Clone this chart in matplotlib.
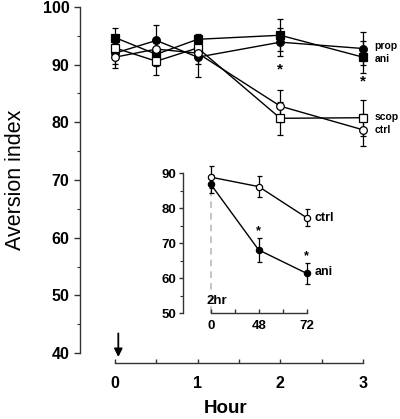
import matplotlib
matplotlib.use("Agg")
import matplotlib.pyplot as plt
import numpy as np

plt.rcParams['font.family'] = ['Liberation Sans', 'DejaVu Sans']

# ---- main panel data ----
hours = [0, 0.5, 1, 2, 3]
prop = [92.0, 94.2, 91.3, 93.9, 92.8]
prop_err = [1.8, 2.7, 3.5, 2.4, 2.9]
ani = [94.7, 91.8, 94.4, 95.1, 91.3]
ani_err = [1.7, 2.0, 1.0, 2.8, 2.8]
scop = [92.9, 90.6, 92.9, 80.7, 80.8]
scop_err = [1.8, 2.4, 1.8, 2.9, 3.1]
ctrl = [91.3, 92.7, 92.0, 82.8, 78.7]
ctrl_err = [1.8, 2.0, 1.8, 2.8, 2.8]
star_x = [2, 3]
star_y = [89.1, 87.0]
main_xticks = [0, 1, 2, 3]
main_yticks = [40, 50, 60, 70, 80, 90, 100]
series_labels = ['prop', 'ani', 'scop', 'ctrl']
series_label_y = [93.2, 91.0, 80.9, 78.6]

# ---- inset data ----
inset_labels = ['0', '48', '72']
inset_ctrl = [88.9, 86.2, 77.3]
inset_ctrl_err = [3.2, 3.1, 2.4]
inset_ani = [86.9, 68.1, 61.4]
inset_ani_err = [2.6, 3.4, 2.9]
inset_star_y = [73.6, 66.2]
inset_yticks = [50, 60, 70, 80, 90]

W, H = 400, 419
fig = plt.figure(figsize=(4.0, 4.19), dpi=100)

def frac(x0, y0, x1, y1):
    return [x0 / W, 1 - y1 / H, (x1 - x0) / W, (y1 - y0) / H]

px_per_hr = (363 - 115) / 3.0
xl = (80 - 115) / px_per_hr
xr = 3 + (372 - 363) / px_per_hr
ax = fig.add_axes(frac(80, 7, 372, 353))
ax.set_xlim(xl, xr)
ax.set_ylim(40, 100)
for s in ['top', 'right']:
    ax.spines[s].set_visible(False)
ax.spines['bottom'].set_bounds(0, 3)
ax.spines['bottom'].set_position(('outward', 7.2))
for s in ['left', 'bottom']:
    ax.spines[s].set_linewidth(1.0)
    ax.spines[s].set_color('#333333')

ax.set_xticks(main_xticks)
ax.set_xticks([0.5, 1.5, 2.5], minor=True)
ax.set_yticks(main_yticks)
ax.set_yticks(np.arange(45, 100, 10), minor=True)
ax.tick_params(axis='x', which='both', direction='in', length=3, width=1, color='#333333', pad=9)
ax.tick_params(axis='y', which='major', direction='out', length=4, width=1, color='#333333')
ax.tick_params(axis='y', which='minor', direction='out', length=2, width=0.8, color='#333333')
for lab in ax.get_xticklabels() + ax.get_yticklabels():
    lab.set_fontweight('bold')
    lab.set_fontsize(11.5)

common = dict(color='black', lw=1.0, elinewidth=0.9, capsize=2, capthick=0.9,
              markersize=5.5, markeredgewidth=0.9, markeredgecolor='black', clip_on=False)
ax.errorbar(hours, prop, yerr=prop_err, marker='o', markerfacecolor='black', zorder=3, **common)
ax.errorbar(hours, ani, yerr=ani_err, marker='s', markerfacecolor='black', zorder=3, **common)
ax.errorbar(hours, scop, yerr=scop_err, marker='s', markerfacecolor='white', zorder=4, **common)
ax.errorbar(hours, ctrl, yerr=ctrl_err, marker='o', markerfacecolor='white', zorder=4, **common)

for x, y in zip(star_x, star_y):
    ax.text(x, y, '*', ha='center', va='center', fontsize=11, fontweight='bold')

lab_x = 3.14
for txt, y in zip(series_labels, series_label_y):
    ax.text(lab_x, y, txt, ha='left', va='center', fontsize=7.5, fontweight='bold', clip_on=False)

ax.set_ylabel('Aversion index', fontsize=15.5, labelpad=12)
ax.set_xlabel('Hour', fontsize=13.5, fontweight='bold', labelpad=7)

# arrow at time 0
ax.annotate('', xy=(0.04, 39.3), xytext=(0.04, 43.4),
            arrowprops=dict(arrowstyle='-|>', color='black', lw=1.3, mutation_scale=12,
                            shrinkA=0, shrinkB=0),
            annotation_clip=False)

# ---- inset axes ----
ipx = (306.7 - 210.7) / 2.0
ixl = (183 - 210.7) / ipx
ixr = 2 + (312 - 306.7) / ipx
iax = fig.add_axes(frac(183, 173.3, 312, 313.3))
iax.patch.set_alpha(0)
iax.set_xlim(ixl, ixr)
iax.set_ylim(50, 90)
for s in ['top', 'right']:
    iax.spines[s].set_visible(False)
iax.spines['bottom'].set_bounds(0, 2)
for s in ['left', 'bottom']:
    iax.spines[s].set_linewidth(1.0)
    iax.spines[s].set_color('#333333')
ipos = np.arange(len(inset_labels))
iax.set_xticks(ipos)
iax.set_xticklabels(inset_labels)
iax.set_xticks([0.5, 1.5], minor=True)
iax.set_yticks(inset_yticks)
iax.set_yticks([55, 65, 75, 85], minor=True)
iax.tick_params(axis='x', which='both', direction='in', length=3, width=1, color='#333333', pad=5)
iax.tick_params(axis='y', which='major', direction='out', length=3, width=1, color='#333333', pad=2)
iax.tick_params(axis='y', which='minor', direction='out', length=2, width=0.8, color='#333333')
for lab in iax.get_xticklabels() + iax.get_yticklabels():
    lab.set_fontweight('bold')
    lab.set_fontsize(9.5)

iax.plot([0, 0], [50, inset_ani[0]], ls=(0, (4, 3)), color='#bbbbbb', lw=1.2, zorder=1)
icommon = dict(color='black', lw=1.0, elinewidth=0.9, capsize=1.8, capthick=0.9,
               markersize=4.5, markeredgewidth=0.9, markeredgecolor='black', clip_on=False)
iax.errorbar(ipos, inset_ani, yerr=inset_ani_err, marker='o', markerfacecolor='black', zorder=3, **icommon)
iax.errorbar(ipos, inset_ctrl, yerr=inset_ctrl_err, marker='o', markerfacecolor='white', zorder=4, **icommon)
for x, y in zip([1, 2], inset_star_y):
    iax.text(x, y, '*', ha='center', va='center', fontsize=9, fontweight='bold')
iax.text(2.17, inset_ctrl[2], 'ctrl', fontsize=9, fontweight='bold',
         va='center', ha='left', clip_on=False)
iax.text(2.17, inset_ani[2] + 0.5, 'ani', fontsize=9, fontweight='bold', va='center', ha='left', clip_on=False)
iax.text(-0.09, 53.5, '2hr', fontsize=9.5, fontweight='bold', va='center', ha='left')

fig.savefig('out.png', dpi=100)
